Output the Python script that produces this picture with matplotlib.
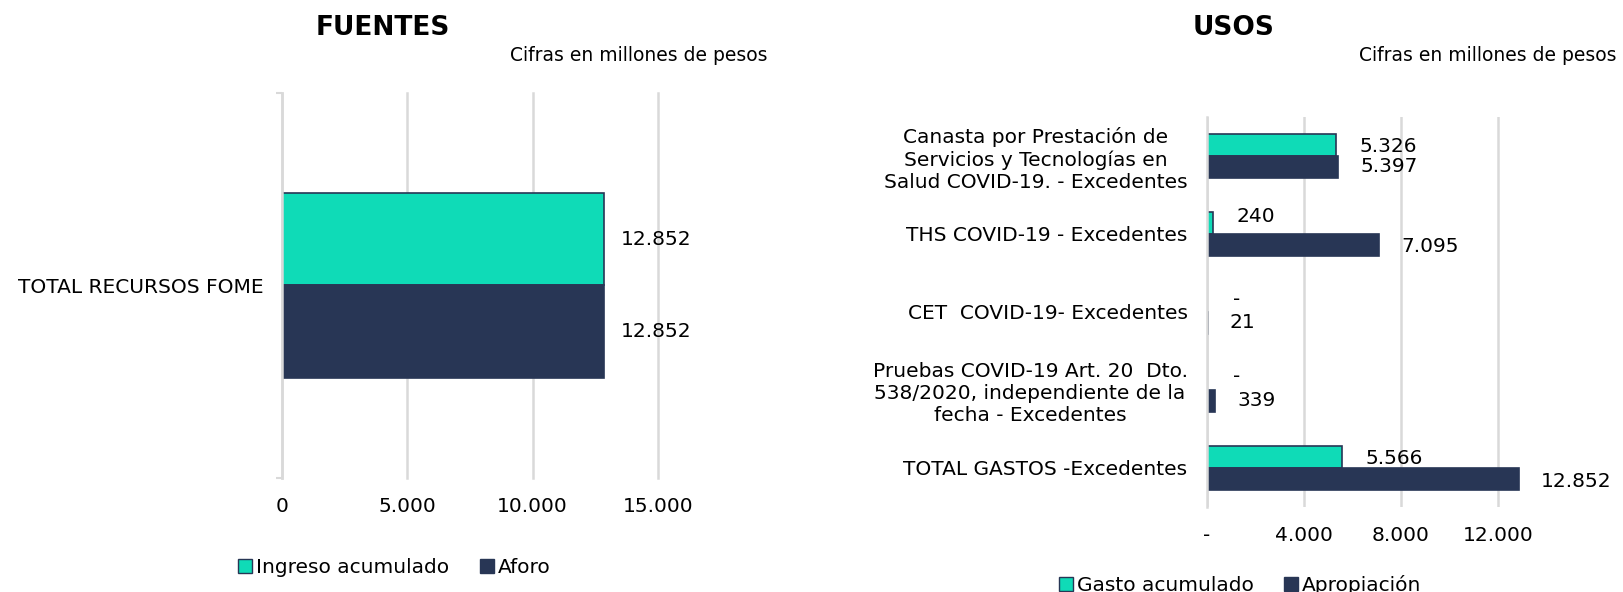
import matplotlib
matplotlib.use("Agg")
import matplotlib.pyplot as plt
from matplotlib.patches import Patch
from matplotlib.ticker import FuncFormatter

# --- data ---
fuentes_cat = ["TOTAL RECURSOS FOME"]
ingreso_acumulado = [12852]
aforo = [12852]

usos_cat = [
    "Canasta por Prestación de\nServicios y Tecnologías en\nSalud COVID-19. - Excedentes",
    "THS COVID-19 - Excedentes",
    "CET  COVID-19- Excedentes",
    "Pruebas COVID-19 Art. 20  Dto.\n538/2020, independiente de la\nfecha - Excedentes",
    "TOTAL GASTOS -Excedentes",
]
gasto_acumulado = [5326, 240, 0, 0, 5566]
apropiacion = [5397, 7095, 21, 339, 12852]

fuentes_ticks = [0, 5000, 10000, 15000]
usos_ticks = [0, 4000, 8000, 12000]

TEAL = "#0fdbb7"
NAVY = "#283655"
GRID = "#d9d9d9"
FS = 14.5

plt.rcParams["font.family"] = ["DejaVu Sans"]


def miles(v):
    return f"{v:,.0f}".replace(",", ".")


def miles_guion(v):
    return "-" if v == 0 else miles(v)


fig = plt.figure(figsize=(16.23, 5.92), dpi=100)

# ---------------- FUENTES ----------------
ax1 = fig.add_axes([0.1738, 0.1926, 0.2316, 0.6503])
h1 = 0.24
ax1.barh([0 + h1 / 2], ingreso_acumulado, height=h1, color=TEAL, edgecolor=NAVY, linewidth=1.2)
ax1.barh([0 - h1 / 2], aforo, height=h1, color=NAVY, edgecolor=NAVY, linewidth=1.2)
for y, v in [(h1 / 2, ingreso_acumulado[0]), (-h1 / 2, aforo[0])]:
    ax1.annotate(miles(v), (v, y), xytext=(12, 0), textcoords="offset points",
                 va="center", ha="left", fontsize=FS)
ax1.set_xlim(0, 15000)
ax1.set_ylim(-0.5, 0.5)
ax1.set_xticks(fuentes_ticks)
ax1.xaxis.set_major_formatter(FuncFormatter(lambda v, p: miles(v)))
ax1.set_yticks([0])
ax1.set_yticklabels(fuentes_cat)
ax1.set_yticks([-0.5, 0.5], minor=True)
ax1.tick_params(axis="y", which="major", length=0, pad=13, labelsize=FS)
ax1.tick_params(axis="y", which="minor", length=4, width=1.5, color=GRID)
ax1.tick_params(axis="x", length=0, pad=14, labelsize=FS)
ax1.grid(axis="x", color=GRID, linewidth=1.8)
for gl in ax1.get_xgridlines():
    gl.set_clip_on(False)
ax1.set_axisbelow(True)
for s in ["top", "right", "bottom"]:
    ax1.spines[s].set_visible(False)
ax1.spines["left"].set_color(GRID)
ax1.spines["left"].set_linewidth(1.8)

fig.text(0.236, 0.953, "FUENTES", ha="center", va="center", fontsize=19, fontweight="bold")
fig.text(0.4726, 0.907, "Cifras en millones de pesos", ha="right", va="center", fontsize=13.5)
fig.legend(handles=[Patch(facecolor=TEAL, edgecolor=NAVY, label="Ingreso acumulado"),
                    Patch(facecolor=NAVY, edgecolor=NAVY, label="Aforo")],
           loc="center", bbox_to_anchor=(0.243, 0.042), ncol=2, frameon=False,
           fontsize=FS, handlelength=0.7, handleheight=0.7, handletextpad=0.2,
           columnspacing=1.5)

# ---------------- USOS ----------------
ax2 = fig.add_axes([0.7437, 0.1436, 0.2092, 0.6588])
h2 = 0.28
pos = list(range(len(usos_cat)))
ax2.barh([p - h2 / 2 for p in pos], gasto_acumulado, height=h2, color=TEAL, edgecolor=NAVY, linewidth=1.2)
ax2.barh([p + h2 / 2 for p in pos], apropiacion, height=h2, color=NAVY, edgecolor=NAVY, linewidth=1.2)

# small vertical nudges (points) of the value labels, as in the original
gasto_dy = [-1, 5, 1, 2, -1]
aprop_dy = [0, -1, 0, 0, -2]
for p, v, dy in zip(pos, gasto_acumulado, gasto_dy):
    ax2.annotate(miles_guion(v), (v, p - h2 / 2), xytext=(17 if v else 19, dy),
                 textcoords="offset points", va="center", ha="left", fontsize=FS)
for p, v, dy in zip(pos, apropiacion, aprop_dy):
    ax2.annotate(miles_guion(v), (v, p + h2 / 2), xytext=(16, dy),
                 textcoords="offset points", va="center", ha="left", fontsize=FS)

ax2.set_xlim(0, 14000)
ax2.set_ylim(len(usos_cat) - 0.5, -0.5)
ax2.set_xticks(usos_ticks)
ax2.xaxis.set_major_formatter(FuncFormatter(lambda v, p: miles_guion(v)))
ax2.set_yticks(pos)
ax2.set_yticklabels(usos_cat, multialignment="center")
ax2.tick_params(axis="y", length=0, pad=14, labelsize=FS)
ax2.tick_params(axis="x", length=0, pad=14, labelsize=FS)
ax2.grid(axis="x", color=GRID, linewidth=1.8)
ax2.set_axisbelow(True)
for s in ["top", "right", "bottom"]:
    ax2.spines[s].set_visible(False)
ax2.spines["left"].set_color(GRID)
ax2.spines["left"].set_linewidth(1.8)

fig.text(0.760, 0.953, "USOS", ha="center", va="center", fontsize=19, fontweight="bold")
fig.text(0.9963, 0.907, "Cifras en millones de pesos", ha="right", va="center", fontsize=13.5)
fig.legend(handles=[Patch(facecolor=TEAL, edgecolor=NAVY, label="Gasto acumulado"),
                    Patch(facecolor=NAVY, edgecolor=NAVY, label="Apropiación")],
           loc="center", bbox_to_anchor=(0.764, 0.012), ncol=2, frameon=False,
           fontsize=FS, handlelength=0.7, handleheight=0.7, handletextpad=0.2,
           columnspacing=1.5)

fig.savefig("out.png", dpi=100)
